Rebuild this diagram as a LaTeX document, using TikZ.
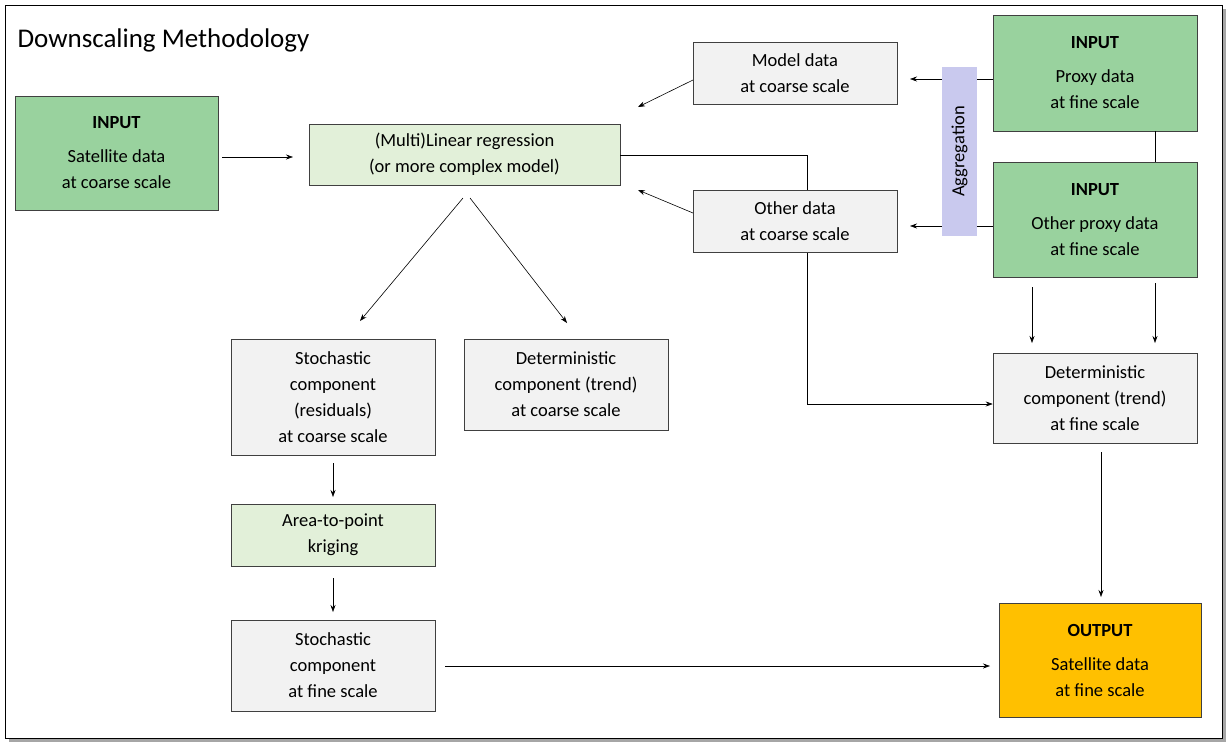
\documentclass[tikz,border=0pt]{standalone}
\usepackage{fontspec}
\setmainfont{Carlito}
\usetikzlibrary{arrows.meta}
\definecolor{ingreen}{RGB}{153,210,158}
\definecolor{lgreen}{RGB}{226,240,217}
\definecolor{lgray}{RGB}{242,242,242}
\definecolor{lav}{RGB}{201,201,238}
\definecolor{orng}{RGB}{255,192,0}
\tikzset{
 bx/.style={draw=black!75,line width=0.6pt,align=center,font=\fontsize{18.5}{26}\selectfont,inner sep=0pt},
 arr/.style={-{Stealth[length=7pt,width=5pt]},line width=0.6pt},
 ln/.style={line width=0.6pt}
}
\newcommand{\bxat}[6]{\node[bx,fill=#6,minimum width={(#3-#2)*1pt},minimum height={(#5-#4)*1pt}] (#1) at ({(#2+#3)/2*1pt},{-(#4+#5)/2*1pt})}
\begin{document}
\begin{tikzpicture}[x=1pt,y=-1pt]
\useasboundingbox (0,0) rectangle (1229,748);
\fill[black!35] (9,9) rectangle (1226,742);
\draw[fill=white,line width=0.6pt] (5,5) rectangle (1222,738);
\node[anchor=west,font=\fontsize{27}{32}\selectfont] (title) at (14,40) {Downscaling Methodology};
\coordinate (c1) at (807,155);
\coordinate (c2) at (807,404);
\bxat{sat}{15}{218}{96}{210}{ingreen}{\textbf{INPUT}\\[8pt]Satellite data\\at coarse scale};
\bxat{reg}{309}{620}{124}{185}{lgreen}{(Multi)Linear regression\\(or more complex model)};
\bxat{det2}{993}{1197}{353}{443}{lgray}{Deterministic\\component (trend)\\at fine scale};
\draw[ln] (reg.east |- c1) -- (c1) -- (c2);
\draw[arr] (c2) -- (det2.west |- c2);
\bxat{mod}{693}{897}{42}{104}{lgray}{Model data\\at coarse scale};
\bxat{oth}{693}{897}{190}{252}{lgray}{Other data\\at coarse scale};
\bxat{prx}{993}{1197}{15}{131}{ingreen}{\textbf{INPUT}\\[8pt]Proxy data\\at fine scale};
\bxat{oprx}{993}{1197}{162}{277}{ingreen}{\textbf{INPUT}\\[8pt]Other proxy data\\at fine scale};
\node[draw=none,fill=lav,minimum width=35pt,minimum height=169pt,inner sep=0pt] (agg) at (959.5,151.5) {};
\node[rotate=90,font=\fontsize{18.5}{22}\selectfont] (aggt) at (agg) {Aggregation};
\bxat{sto}{231}{435}{339}{455}{lgray}{Stochastic\\component\\(residuals)\\at coarse scale};
\bxat{det}{464}{668}{339}{430}{lgray}{Deterministic\\component (trend)\\at coarse scale};
\bxat{atp}{231}{435}{504}{566}{lgreen}{Area-to-point\\kriging};
\bxat{stf}{231}{435}{620}{711}{lgray}{Stochastic\\component\\at fine scale};
\bxat{out}{999}{1201}{603}{717}{orng}{\textbf{OUTPUT}\\[8pt]Satellite data\\at fine scale};
\draw[arr] (222,157) -- (293,157);
\draw[arr] (693,80) -- (638,107);
\draw[arr] (693,213) -- (638,190);
\draw[ln] (prx.west |- 0,79) -- (agg.east |- 0,79);
\draw[arr] (agg.west |- 0,79) -- (910,79);
\draw[ln] (oprx.west |- 0,226) -- (agg.east |- 0,226);
\draw[arr] (agg.west |- 0,226) -- (910,226);
\draw[ln] (1155,131) -- (1155,162);
\draw[arr] (463,198) -- (360,321);
\draw[arr] (470,198) -- (567,323);
\draw[arr] (1032,287) -- (1032,343);
\draw[arr] (1155,283) -- (1155,343);
\draw[arr] (333,463) -- (333,497);
\draw[arr] (333,578) -- (333,612);
\draw[arr] (445,666) -- (990,666);
\draw[arr] (1101,452) -- (1101,597);
\end{tikzpicture}
\end{document}
